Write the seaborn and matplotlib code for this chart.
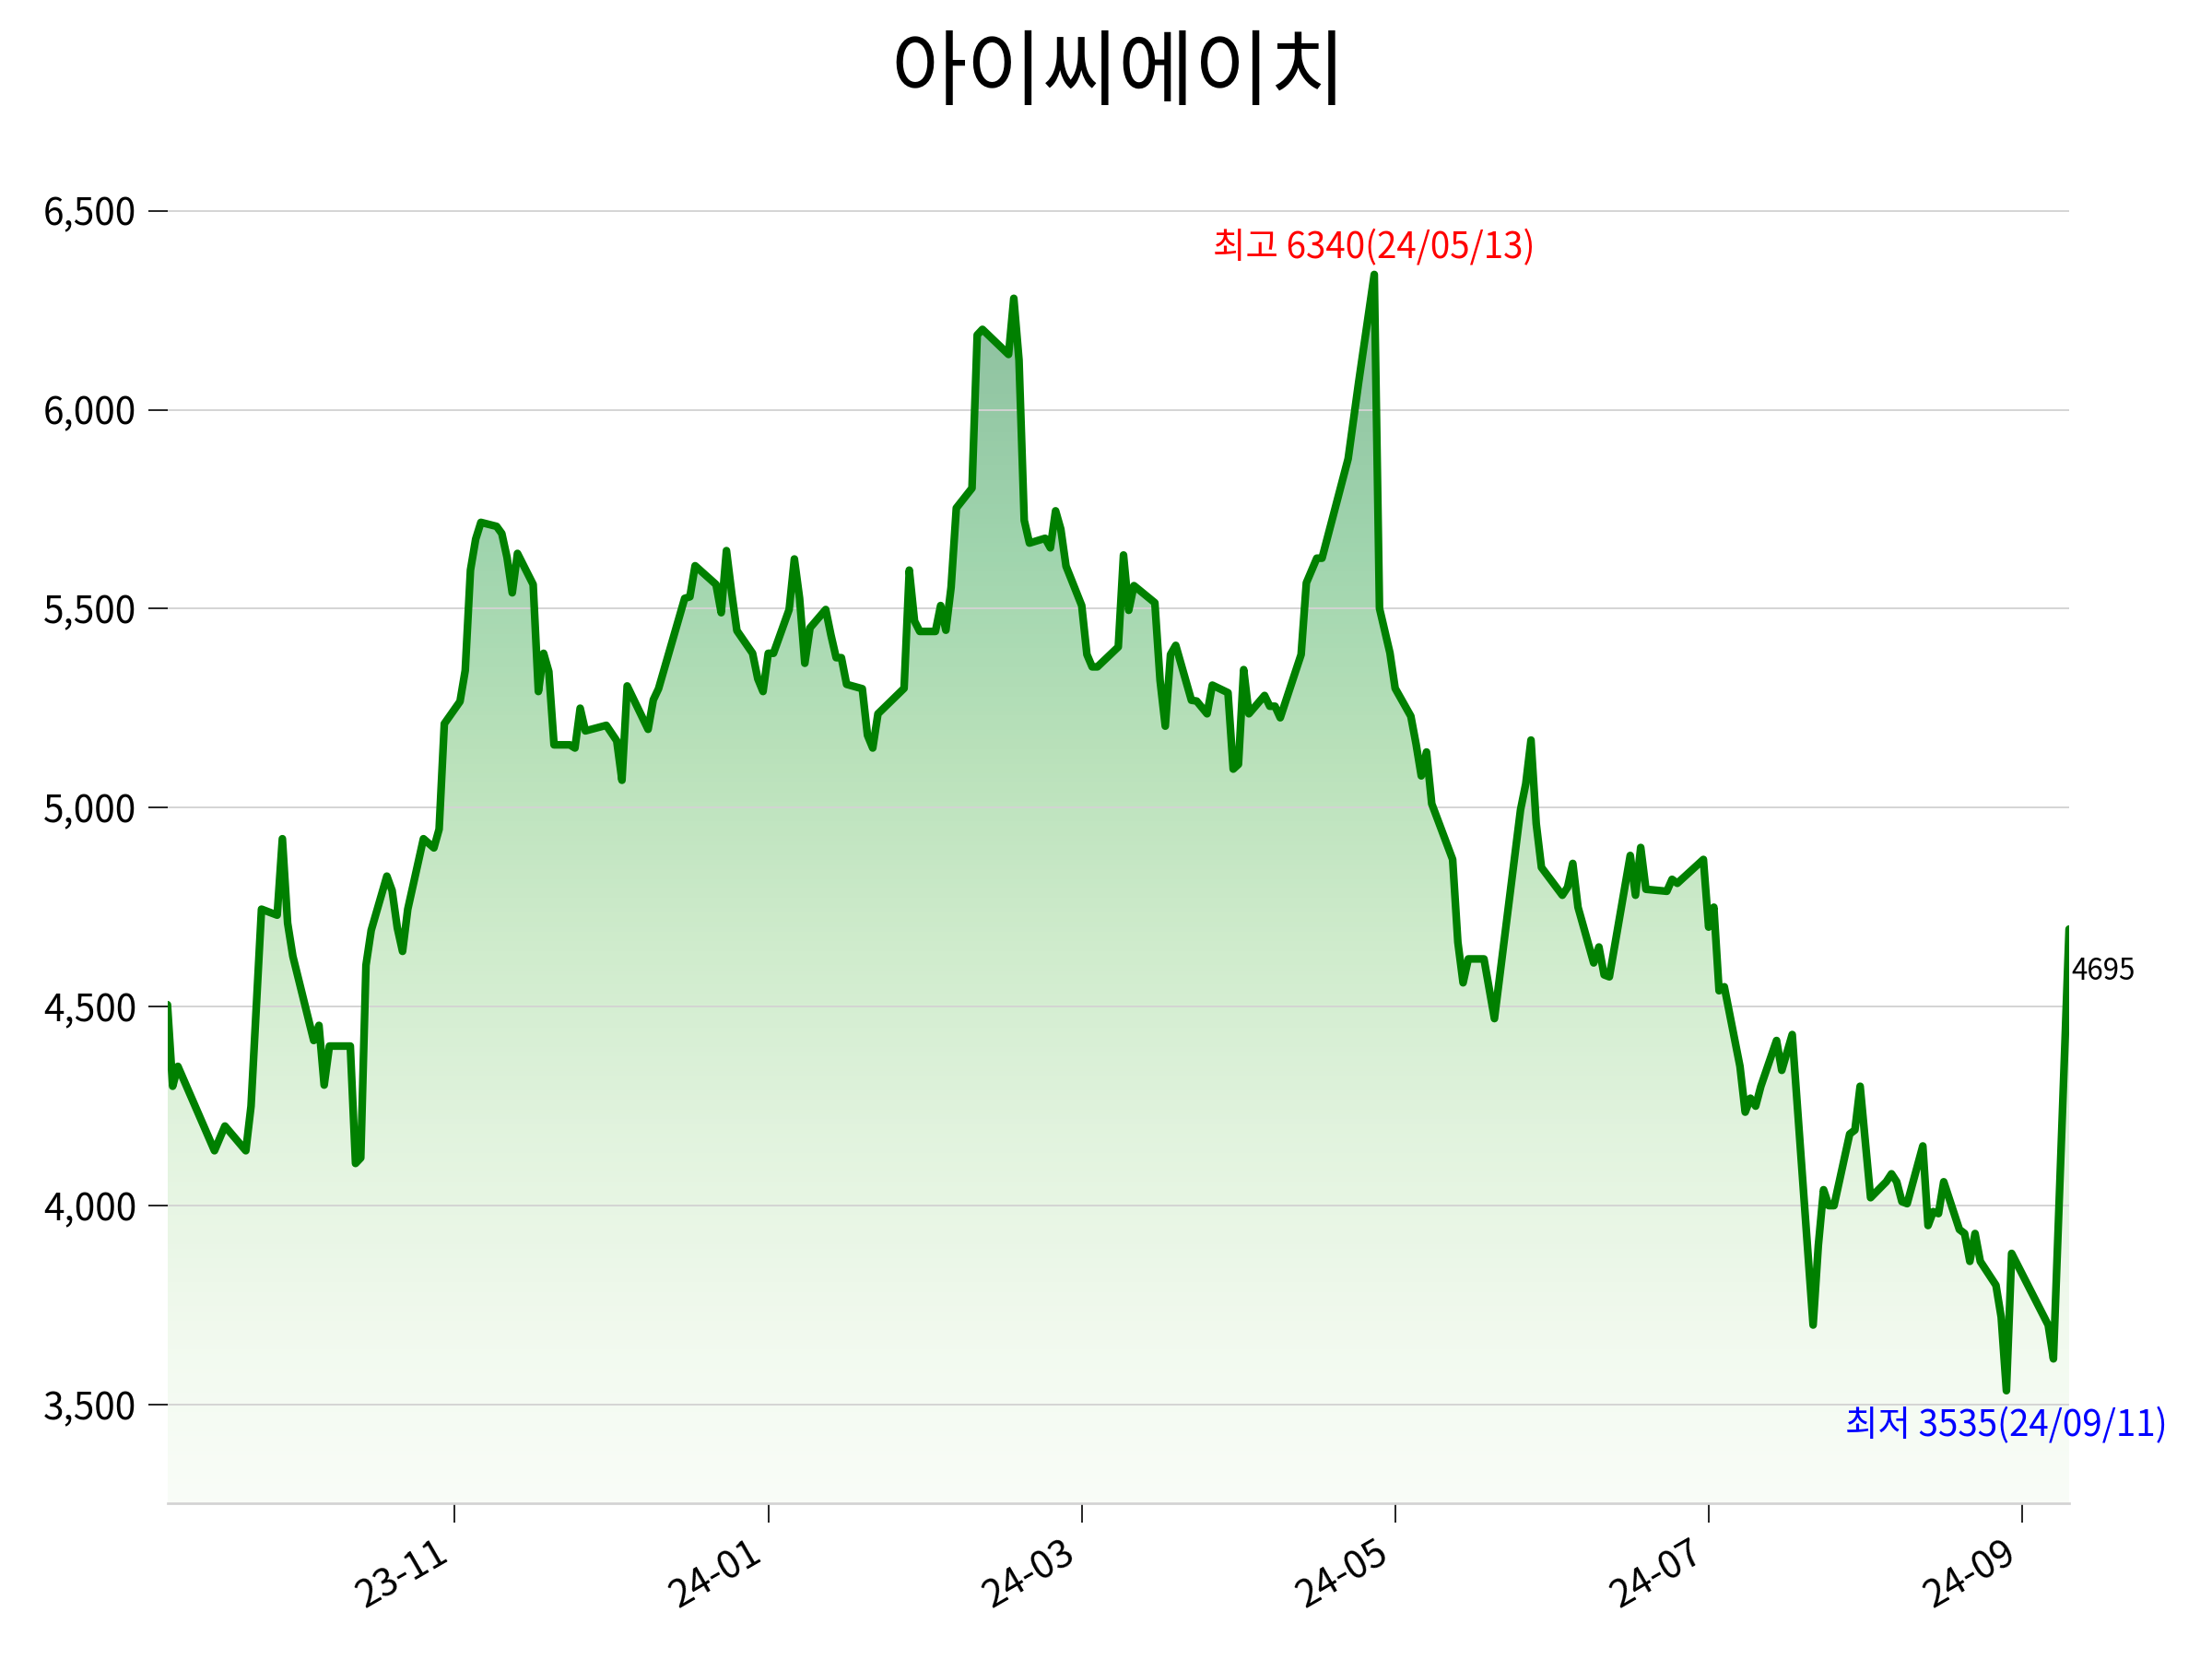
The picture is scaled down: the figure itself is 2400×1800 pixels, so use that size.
import numpy as np
import pandas as pd
import seaborn as sns
import matplotlib.pyplot as plt
import matplotlib.dates as mdates
from matplotlib.ticker import MultipleLocator, FuncFormatter
from matplotlib.patches import PathPatch

title = "아이씨에이치"

dates = [
    "2023-09-25", "2023-09-26", "2023-09-27", "2023-10-04", "2023-10-06", "2023-10-10",
    "2023-10-11", "2023-10-13", "2023-10-16", "2023-10-17", "2023-10-18", "2023-10-19",
    "2023-10-23", "2023-10-24", "2023-10-25", "2023-10-26", "2023-10-30", "2023-10-31",
    "2023-11-01", "2023-11-02", "2023-11-03", "2023-11-06", "2023-11-07", "2023-11-08",
    "2023-11-09", "2023-11-10", "2023-11-13", "2023-11-15", "2023-11-16", "2023-11-17",
    "2023-11-20", "2023-11-21", "2023-11-22", "2023-11-23", "2023-11-24", "2023-11-27",
    "2023-11-28", "2023-11-29", "2023-11-30", "2023-12-01", "2023-12-04", "2023-12-05",
    "2023-12-06", "2023-12-07", "2023-12-08", "2023-12-11", "2023-12-12", "2023-12-13",
    "2023-12-14", "2023-12-18", "2023-12-20", "2023-12-21", "2023-12-22", "2023-12-26",
    "2023-12-27", "2023-12-28", "2024-01-02", "2024-01-03", "2024-01-04", "2024-01-08",
    "2024-01-09", "2024-01-10", "2024-01-11", "2024-01-12", "2024-01-15", "2024-01-16",
    "2024-01-17", "2024-01-18", "2024-01-19", "2024-01-22", "2024-01-23", "2024-01-24",
    "2024-01-25", "2024-01-26", "2024-01-29", "2024-01-30", "2024-01-31", "2024-02-01",
    "2024-02-02", "2024-02-05", "2024-02-06", "2024-02-07", "2024-02-08", "2024-02-13",
    "2024-02-14", "2024-02-15", "2024-02-16", "2024-02-19", "2024-02-20", "2024-02-21",
    "2024-02-22", "2024-02-23", "2024-02-26", "2024-02-27", "2024-02-28", "2024-03-04",
    "2024-03-05", "2024-03-06", "2024-03-07", "2024-03-08", "2024-03-11", "2024-03-12",
    "2024-03-13", "2024-03-14", "2024-03-15", "2024-03-18", "2024-03-19", "2024-03-20",
    "2024-03-21", "2024-03-25", "2024-03-26", "2024-03-27", "2024-03-28", "2024-04-01",
    "2024-04-02", "2024-04-03", "2024-04-04", "2024-04-05", "2024-04-08", "2024-04-09",
    "2024-04-11", "2024-04-12", "2024-04-15", "2024-04-16", "2024-04-17", "2024-04-18",
    "2024-04-19", "2024-04-22", "2024-04-23", "2024-04-24", "2024-04-25", "2024-04-29",
    "2024-04-30", "2024-05-02", "2024-05-03", "2024-05-08", "2024-05-10", "2024-05-13",
    "2024-05-14", "2024-05-16", "2024-05-17", "2024-05-20", "2024-05-21", "2024-05-22",
    "2024-05-23", "2024-05-24", "2024-05-28", "2024-05-29", "2024-05-30", "2024-05-31",
    "2024-06-03", "2024-06-05", "2024-06-10", "2024-06-11", "2024-06-12", "2024-06-13",
    "2024-06-14", "2024-06-18", "2024-06-19", "2024-06-20", "2024-06-21", "2024-06-24",
    "2024-06-25", "2024-06-26", "2024-06-27", "2024-07-01", "2024-07-02", "2024-07-03",
    "2024-07-04", "2024-07-08", "2024-07-09", "2024-07-10", "2024-07-15", "2024-07-16",
    "2024-07-17", "2024-07-18", "2024-07-19", "2024-07-22", "2024-07-23", "2024-07-24",
    "2024-07-25", "2024-07-26", "2024-07-29", "2024-07-30", "2024-08-01", "2024-08-05",
    "2024-08-06", "2024-08-07", "2024-08-08", "2024-08-09", "2024-08-12", "2024-08-13",
    "2024-08-14", "2024-08-16", "2024-08-19", "2024-08-20", "2024-08-21", "2024-08-22",
    "2024-08-23", "2024-08-26", "2024-08-27", "2024-08-28", "2024-08-29", "2024-08-30",
    "2024-09-02", "2024-09-03", "2024-09-04", "2024-09-05", "2024-09-06", "2024-09-09",
    "2024-09-10", "2024-09-11", "2024-09-12", "2024-09-19", "2024-09-20", "2024-09-23",
]

prices = [
    4505, 4300, 4350, 4138, 4200, 4138,
    4250, 4745, 4730, 4922, 4710, 4627,
    4415, 4453, 4303, 4401, 4401, 4106,
    4120, 4604, 4692, 4828, 4792, 4698,
    4639, 4745, 4922, 4899, 4946, 5211,
    5267, 5345, 5597, 5675, 5717, 5707,
    5689, 5629, 5540, 5639, 5561, 5292,
    5388, 5342, 5158, 5158, 5150, 5250,
    5193, 5207, 5168, 5069, 5306, 5197,
    5271, 5299, 5526, 5530, 5608, 5561,
    5490, 5646, 5540, 5445, 5388, 5324,
    5292, 5388, 5388, 5498, 5625, 5526,
    5363, 5452, 5498, 5434, 5377, 5377,
    5310, 5299, 5182, 5150, 5236, 5300,
    5597, 5469, 5443, 5443, 5508, 5446,
    5554, 5753, 5803, 6188, 6202, 6139,
    6280, 6125, 5722, 5665, 5677, 5653,
    5746, 5700, 5607, 5508, 5385, 5354,
    5354, 5404, 5635, 5496, 5558, 5515,
    5320, 5205, 5385, 5408, 5270, 5268,
    5236, 5308, 5289, 5097, 5109, 5347,
    5236, 5282, 5255, 5255, 5226, 5385,
    5565, 5627, 5627, 5877, 6068, 6340,
    5501, 5389, 5300, 5230, 5160, 5080,
    5140, 5010, 4870, 4662, 4560, 4620,
    4620, 4470, 4995, 5060, 5170, 4960,
    4850, 4780, 4800, 4860, 4750, 4610,
    4650, 4580, 4575, 4880, 4780, 4900,
    4795, 4790, 4820, 4810, 4870, 4700,
    4750, 4540, 4550, 4350, 4235, 4270,
    4250, 4300, 4415, 4340, 4430, 3700,
    3900, 4040, 4000, 4000, 4180, 4190,
    4300, 4020, 4060, 4080, 4060, 4010,
    4005, 4150, 3950, 3985, 3980, 4060,
    3940, 3930, 3860, 3930, 3860, 3800,
    3720, 3535, 3880, 3700, 3615, 4695,
]

df = pd.DataFrame({"date": pd.to_datetime(dates), "close": prices})

sns.set_theme(style="whitegrid", rc={
    "text.color": "black", "xtick.color": "black", "ytick.color": "black",
    "grid.color": "#d3d3d3", "grid.linewidth": 0.9,
})
plt.rcParams["font.family"] = ["Noto Sans CJK KR", "DejaVu Sans"]

fig, ax = plt.subplots(figsize=(16, 12), dpi=150)
fig.subplots_adjust(left=0.0757, right=0.9354, bottom=0.0939, top=0.9106)

hi = df["close"].max()
lo = df["close"].min()
ymin, ymax = lo * 0.92, hi * 1.05

# gradient fill under the line
fill = ax.fill_between(df["date"], df["close"], ymin, color="none")
x0 = mdates.date2num(df["date"].iloc[0])
x1 = mdates.date2num(df["date"].iloc[-1])
grad = np.linspace(0.03, 0.8, 256).reshape(-1, 1)
img = ax.imshow(grad, cmap="Greens", vmin=0, vmax=1, alpha=0.5, aspect="auto",
                origin="lower", extent=[x0, x1, ymin, hi], zorder=0.2)
clip = PathPatch(fill.get_paths()[0], transform=ax.transData,
                 facecolor="none", edgecolor="none")
ax.add_patch(clip)
img.set_clip_path(clip)

sns.lineplot(data=df, x="date", y="close", color="green", linewidth=4, ax=ax, zorder=3)

ax.set_xlim(x0, x1)
ax.set_ylim(ymin, ymax)
ax.set_xlabel("")
ax.set_ylabel("")
ax.set_title(title, fontsize=43, pad=26)

ax.xaxis.set_major_locator(MultipleLocator(60))
ax.xaxis.set_major_formatter(mdates.DateFormatter("%y-%m"))
ax.yaxis.set_major_locator(MultipleLocator(500))
ax.yaxis.set_major_formatter(FuncFormatter(lambda v, p: f"{v:,.0f}"))
ax.xaxis.grid(False)
ax.tick_params(axis="both", length=10, width=0.8, color="black", left=True, bottom=True)
ax.tick_params(axis="y", labelsize=19.5, pad=6)
ax.tick_params(axis="x", labelsize=20, pad=6)
plt.setp(ax.get_xticklabels(), rotation=30, ha="right")

for side in ["left", "top", "right"]:
    ax.spines[side].set_visible(False)
ax.spines["bottom"].set_color("#d3d3d3")
ax.spines["bottom"].set_linewidth(1.3)

# max / min / last annotations
i_hi = df["close"].idxmax()
i_lo = df["close"].idxmin()
d_hi = df["date"][i_hi]
d_lo = df["date"][i_lo]
ax.annotate(f"최고 {hi}({d_hi:%y/%m/%d})", xy=(d_hi, hi), xytext=(0, 4),
            textcoords="offset points", ha="center", va="bottom", color="red", fontsize=18.5)
ax.annotate(f"최저 {lo}({d_lo:%y/%m/%d})", xy=(d_lo, lo), xytext=(0, -9),
            textcoords="offset points", ha="center", va="top", color="blue", fontsize=18.5)
last = df["close"].iloc[-1]
ax.annotate(f"{last}", xy=(df["date"].iloc[-1], last), xytext=(1, -22),
            textcoords="offset points", ha="left", va="center", color="black", fontsize=15)

plt.savefig("out.png", dpi=150)
